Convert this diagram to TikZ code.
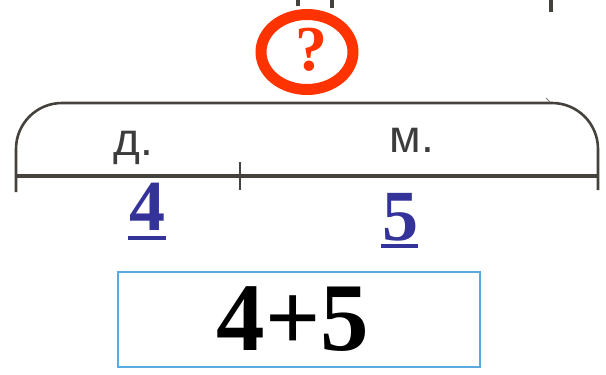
\documentclass[tikz,border=0pt]{standalone}
\usepackage{fontspec}
\setmainfont{Liberation Serif}
\newfontfamily\labfont{Liberation Sans}
\definecolor{qred}{HTML}{FF3300}
\definecolor{nblue}{HTML}{333399}
\definecolor{boxblue}{HTML}{5AAAE0}
\definecolor{ink}{HTML}{45413D}
\definecolor{labink}{HTML}{3C3C3C}
\begin{document}
\begin{tikzpicture}[x=1pt,y=-1pt,
  seg/.style={draw=ink,line width=2.6pt},
  base/.style={draw=ink,line width=4pt},
  lab/.style={inner sep=0pt,anchor=base,text=labink,font=\labfont\fontsize{46}{46}\selectfont},
  num/.style={inner sep=0pt,anchor=base,text=nblue,font=\bfseries\fontsize{72}{72}\selectfont},
  uline/.style={draw=nblue,line width=3.2pt}]
\useasboundingbox (0,0) rectangle (606,375);
% top fragments
\fill[ink] (296,0) rectangle (300,6);
\fill[ink] (330,0) rectangle (334,8);
\fill[ink] (549,0) rectangle (553,12);
% question ellipse
\draw[qred,line width=11pt] (307,52) ellipse [x radius=46, y radius=37.5];
\node[inner sep=0pt,anchor=base,text=qred,font=\bfseries\fontsize{64}{64}\selectfont] (q) at (311,70) {?};
% brace
\draw[seg,rounded corners=46pt] (16,192) -- (16,103) -- (598,103) -- (598,190);
\draw[base] (16,176) -- (598,176);
\draw[seg] (240,162) -- (240,190);
\draw[gray,line width=0.8pt] (546,98) -- (550,102);
% labels
\node[lab] (d) at (133,155) {д.};
\node[lab] (m) at (412,152) {м.};
% numbers
\node[num] (n4) at (147,230) {4};
\draw[uline] (128,238) -- (166,238);
\node[num] (n5) at (400,240) {5};
\draw[uline] (381,246) -- (418,246);
% answer box
\node[draw=boxblue,line width=2.2pt,minimum width=362pt,minimum height=95pt,inner sep=0pt,
      font=\bfseries\fontsize{97}{97}\selectfont] (box) at (299,319.5)
      {\hspace{-12pt}\raisebox{-4.5pt}{4+5}};
\end{tikzpicture}
\end{document}
